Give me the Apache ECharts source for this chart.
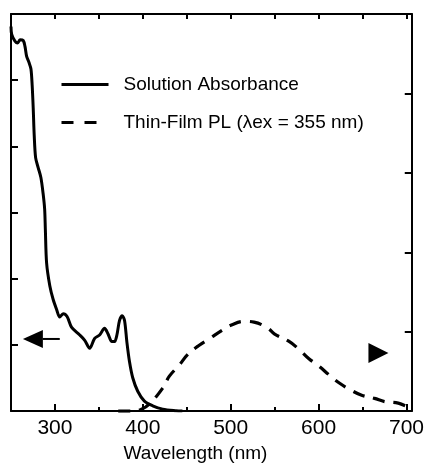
<!DOCTYPE html>
<html>
<head>
<meta charset="utf-8">
<script src="https://cdn.jsdelivr.net/npm/echarts@6/dist/echarts.min.js"></script>
<style>
html,body{margin:0;padding:0;background:#fff;}
#c{width:427px;height:468px;}
</style>
</head>
<body>
<div id="c"></div>
<script>
// Solution absorbance (left axis)
const absWavelength = [250, 250.8, 254.5, 257.6, 260.2, 263.9, 265.9, 267.8, 270.4, 272.7, 274.1, 275.3, 276.4, 278.0, 280.9, 284.0, 286.6, 288.3, 289.1, 290.5, 294.2, 297.9, 301.8, 305.5, 309.3, 313.8, 318.8, 328.2, 333.9, 339.5, 345.2, 350.8, 356.5, 360.3, 364.8, 367.8, 370.5, 373.5, 376.6, 379.2, 381.8, 384.8, 388.6, 394.2, 401.8, 411.2, 422.6, 437.8, 445];
const absValues = [5.81, 5.69, 5.59, 5.56, 5.61, 5.60, 5.51, 5.36, 5.27, 5.17, 4.92, 4.57, 4.17, 3.83, 3.68, 3.53, 3.28, 3.05, 2.74, 2.24, 1.89, 1.69, 1.54, 1.42, 1.47, 1.43, 1.27, 1.15, 1.07, 0.95, 1.10, 1.15, 1.25, 1.17, 1.05, 1.05, 1.15, 1.37, 1.44, 1.37, 1.05, 0.75, 0.50, 0.30, 0.15, 0.08, 0.03, 0.005, 0];

// Thin-film PL (right axis)
const plWavelength = [372, 390, 398, 407.5, 422.6, 430.2, 441.5, 450.9, 464.2, 475.5, 490.6, 500.1, 515.2, 526.5, 541.6, 550, 566, 577.5, 589, 600, 612.6, 624, 637.5, 649, 663.6, 675, 690.6, 700];
const plValues = [0, 0, 0.02, 0.09, 0.29, 0.44, 0.58, 0.71, 0.83, 0.91, 1.02, 1.08, 1.13, 1.12, 1.05, 0.97, 0.88, 0.78, 0.66, 0.57, 0.45, 0.35, 0.26, 0.20, 0.16, 0.12, 0.10, 0.06];

const xTickLabels = [300, 400, 500, 600, 700];
const xMinorTicks = [350, 450, 550, 650];
const seriesNames = ['Solution Absorbance', 'Thin-Film PL (\u03BBex = 355 nm)'];
const axisTitle = 'Wavelength (nm)';

// Annotation arrows (data coordinates)
const leftArrowShaft = [[286, 1.09], [305.5, 1.09]];
const leftArrowHead = [274.9, 1.09];
const rightArrowHead = [668.1, 0.73];

const absData = absWavelength.map((w, i) => [w, absValues[i]]);
const plData = plWavelength.map((w, i) => [w, plValues[i]]);

const FONT = 'Liberation Sans';
const BLACK = '#000';

const chart = echarts.init(document.getElementById('c'), null, {renderer: 'canvas'});
chart.setOption({
  animation: false,
  backgroundColor: '#fff',
  grid: {left: 11, right: 14, top: 14, bottom: 51, containLabel: false},
  legend: {
    orient: 'vertical',
    left: 60,
    top: 75,
    padding: 0,
    itemWidth: 47,
    itemHeight: 14,
    itemGap: 19,
    data: [
      {name: seriesNames[0], lineStyle: {type: 'solid', width: 3, color: BLACK}},
      {name: seriesNames[1], lineStyle: {type: [12, 11, 12, 30], width: 3, color: BLACK}}
    ],
    itemStyle: {opacity: 0},
    textStyle: {fontFamily: FONT, fontSize: 19, color: '#000', padding: [0, 0, 0, 10]},
    selectedMode: false
  },
  xAxis: [
    {
      type: 'value', position: 'bottom', min: 250, max: 706,
      axisLine: {show: true, lineStyle: {color: BLACK, width: 2}},
      axisTick: {show: true, inside: true, length: 7, customValues: xTickLabels, lineStyle: {color: BLACK, width: 2}},
      axisLabel: {show: true, customValues: xTickLabels, margin: 7, fontFamily: FONT, fontSize: 21, color: '#000'},
      splitLine: {show: false},
      name: axisTitle, nameLocation: 'middle', nameGap: 30,
      nameTextStyle: {fontFamily: FONT, fontSize: 19, color: '#000', padding: [0, 32, 0, 0]}
    },
    {
      type: 'value', position: 'bottom', min: 250, max: 706,
      axisLine: {show: false},
      axisTick: {show: true, inside: true, length: 4, customValues: xMinorTicks, lineStyle: {color: BLACK, width: 2}},
      axisLabel: {show: false},
      splitLine: {show: false}
    },
    {
      type: 'value', position: 'top', min: 250, max: 706, interval: 50,
      axisLine: {show: true, lineStyle: {color: BLACK, width: 2}},
      axisTick: {show: true, inside: true, length: 5, lineStyle: {color: BLACK, width: 2}},
      axisLabel: {show: false},
      splitLine: {show: false}
    }
  ],
  yAxis: [
    {
      type: 'value', position: 'left', min: 0, max: 6, interval: 1,
      axisLine: {show: true, lineStyle: {color: BLACK, width: 2}},
      axisTick: {show: true, inside: true, length: 7, lineStyle: {color: BLACK, width: 2}},
      axisLabel: {show: false},
      splitLine: {show: false}
    },
    {
      type: 'value', position: 'right', min: 0, max: 5, interval: 1,
      axisLine: {show: true, lineStyle: {color: BLACK, width: 2}},
      axisTick: {show: true, inside: true, length: 7, lineStyle: {color: BLACK, width: 2}},
      axisLabel: {show: false},
      splitLine: {show: false}
    }
  ],
  series: [
    {
      name: seriesNames[0], type: 'line', xAxisIndex: 0, yAxisIndex: 0,
      data: absData, showSymbol: false, symbol: 'none', smooth: 0.3,
      lineStyle: {color: BLACK, width: 3},
      itemStyle: {color: BLACK}
    },
    {
      name: seriesNames[1], type: 'line', xAxisIndex: 0, yAxisIndex: 1,
      data: plData, showSymbol: false, symbol: 'none', smooth: 0.4,
      lineStyle: {color: BLACK, width: 3.2, type: [12, 9]},
      itemStyle: {color: BLACK}
    },
    {
      name: 'leftArrowShaft', type: 'line', xAxisIndex: 0, yAxisIndex: 0,
      data: leftArrowShaft, showSymbol: false, symbol: 'none', silent: true,
      lineStyle: {color: BLACK, width: 2}
    },
    {
      name: 'leftArrowHead', type: 'scatter', xAxisIndex: 0, yAxisIndex: 0,
      data: [leftArrowHead], symbol: 'triangle', symbolRotate: 90, symbolSize: [18, 20], silent: true,
      itemStyle: {color: BLACK, opacity: 1}
    },
    {
      name: 'rightArrowHead', type: 'scatter', xAxisIndex: 0, yAxisIndex: 1,
      data: [rightArrowHead], symbol: 'triangle', symbolRotate: -90, symbolSize: [20, 20], silent: true,
      itemStyle: {color: BLACK, opacity: 1}
    }
  ]
});
</script>
</body>
</html>
